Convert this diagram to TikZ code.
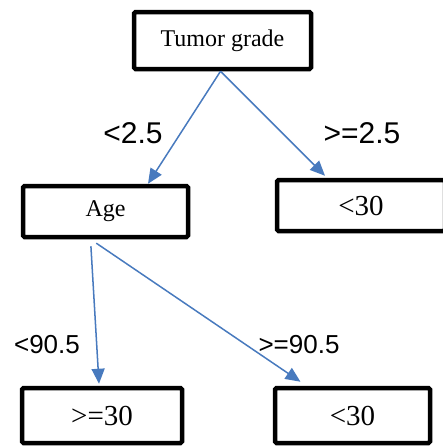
\documentclass[tikz,border=0pt]{standalone}
\usepackage{fontspec}
\setmainfont{Liberation Serif}
\newfontfamily\LabelFont{Liberation Sans}
\usetikzlibrary{arrows.meta}
\definecolor{ArrowBlue}{RGB}{72,122,190}
\newcommand{\Thick}{4.5pt}
\tikzset{Box/.style={
		inner sep=0pt,
		draw=black,
		line width=\Thick,
		rounded corners=1.5pt,
		align=center,
		font=\fontsize{24}{28}\selectfont,
	},
	Leaf/.style={
		Box,
		font=\fontsize{29}{33}\selectfont,
	},
	Branch/.style={
		draw=ArrowBlue,
		line width=1.5pt,
		-{Triangle[length=15pt,width=13pt]},
	},
	Cut/.style={
		inner sep=0pt,
		font=\LabelFont\fontsize{30}{34}\selectfont,
	}
}

\begin{document}
\begin{tikzpicture}[x=1pt,y=-1pt]
		\useasboundingbox (0,0) rectangle (443,447);
		% boxes
		\node [Box, minimum width=177pt, minimum height=57pt] (Tumor) at (222.5,40.5) {Tumor grade};
		\node [Box, minimum width=165pt, minimum height=51pt] (Age) at (105.5,211.5) {Age};
		\node [Leaf, minimum width=168pt, minimum height=51pt] (HighGrade) at (361,205.5) {<30};
		\node [Leaf, minimum width=160pt, minimum height=55pt] (Young) at (102,415.5) {>=30};
		\node [Leaf, minimum width=155pt, minimum height=55pt] (Old) at (352.5,415.5) {<30};
		% branches
		\draw [Branch] ([xshift=-2pt]Tumor.south) -- ([xshift=42.5pt]Age.north);
		\draw [Branch] ([xshift=-2pt]Tumor.south) -- ([xshift=-36pt,yshift=2pt]HighGrade.north);
		\draw [Branch, shorten <=7pt] ([xshift=-15pt]Age.south) -- ([xshift=-3pt,yshift=2pt]Young.north);
		\draw [Branch, shorten <=7pt] ([xshift=-15pt]Age.south) -- ([xshift=-52pt,yshift=4pt]Old.north);
		% split values
		\node [Cut] (LowCut) at (133,133) {<2.5};
		\node [Cut] (HighCut) at (362,133) {>=2.5};
		\node [Cut, font=\LabelFont\fontsize{26}{30}\selectfont] (AgeLow) at (47,345) {<90.5};
		\node [Cut, font=\LabelFont\fontsize{26}{30}\selectfont] (AgeHigh) at (299,345) {>=90.5};
	\end{tikzpicture}
\end{document}
